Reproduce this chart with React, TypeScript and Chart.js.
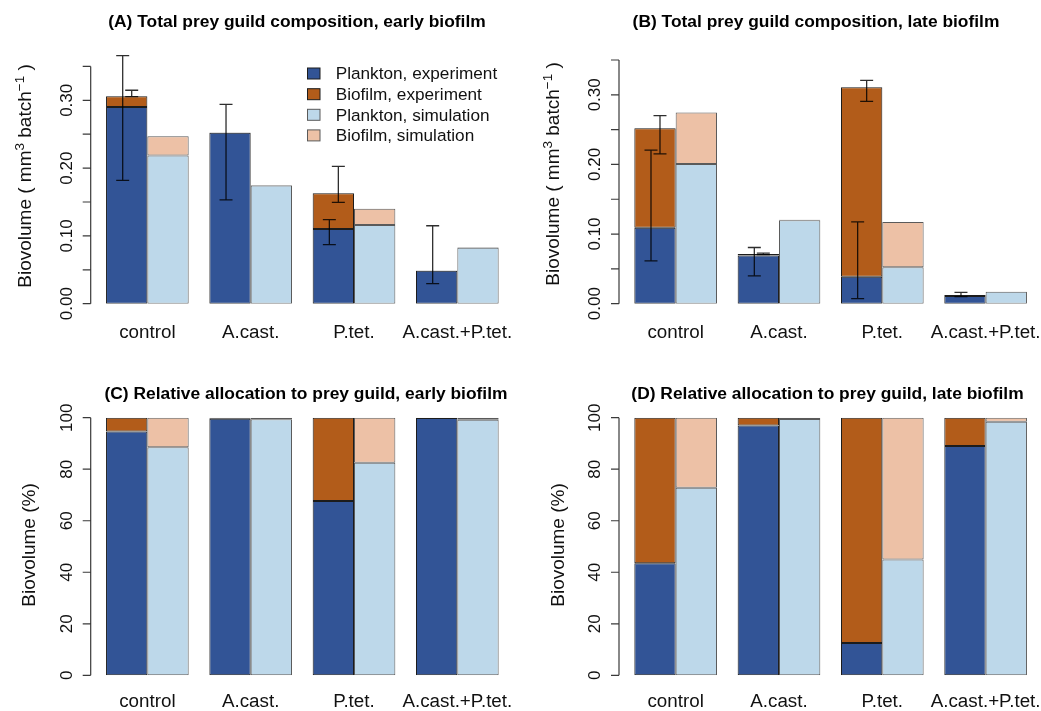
import React, { useEffect, useRef } from 'react';
import { Chart, registerables } from 'chart.js';

Chart.register(...registerables);

// ---------- data ----------
const categories = ['control', 'A.cast.', 'P.tet.', 'A.cast.+P.tet.'];

// (A) early biofilm, total biovolume (mm^3 batch^-1)
const earlyPlanktonExp = [0.29, 0.252, 0.11, 0.0487];
const earlyBiofilmExp = [0.016, 0.0006, 0.053, 0.0004];
const earlyPlanktonSim = [0.2185, 0.1745, 0.116, 0.0826];
const earlyBiofilmSim = [0.0285, 0.0005, 0.024, 0.0006];
const earlyPlanktonErrLow = [0.182, 0.153, 0.087, 0.0295];
const earlyPlanktonErrHigh = [0.366, 0.294, 0.124, 0.115];
const earlyBiofilmErrLow = [0.3054, null, 0.1495, null];
const earlyBiofilmErrHigh = [0.3148, null, 0.2026, null];

// (B) late biofilm, total biovolume (mm^3 batch^-1)
const latePlanktonExp = [0.109, 0.0692, 0.0387, 0.0112];
const lateBiofilmExp = [0.143, 0.0021, 0.2723, 0.0014];
const latePlanktonSim = [0.2005, 0.1198, 0.0525, 0.017];
const lateBiofilmSim = [0.074, 0.0006, 0.0649, 0.0003];
const latePlanktonErrLow = [0.0616, 0.04, 0.0072, 0.0102];
const latePlanktonErrHigh = [0.2205, 0.0807, 0.1174, 0.0163];
const lateBiofilmErrLow = [0.2153, 0.0705, 0.2907, null];
const lateBiofilmErrHigh = [0.27, 0.0725, 0.3208, null];

// (C) early biofilm, relative allocation (%)
const relEarlyPlanktonExp = [94.6, 99.6, 67.7, 99.9];
const relEarlyBiofilmExp = [5.4, 0.4, 32.3, 0.1];
const relEarlyPlanktonSim = [88.5, 99.4, 82.5, 99.2];
const relEarlyBiofilmSim = [11.5, 0.6, 17.5, 0.8];

// (D) late biofilm, relative allocation (%)
const relLatePlanktonExp = [43.5, 97.0, 12.5, 89.0];
const relLateBiofilmExp = [56.5, 3.0, 87.5, 11.0];
const relLatePlanktonSim = [72.8, 99.5, 45.0, 98.4];
const relLateBiofilmSim = [27.2, 0.5, 55.0, 1.6];

// axis ticks
const volumeTicks = [0, 0.05, 0.1, 0.15, 0.2, 0.25, 0.3, 0.35];
const volumeTickLabels = ['0.00', '', '0.10', '', '0.20', '', '0.30', ''];
const percentTicks = [0, 20, 40, 60, 80, 100];
const percentTickLabels = ['0', '20', '40', '60', '80', '100'];

const seriesNames = ['Plankton, experiment', 'Biofilm, experiment', 'Plankton, simulation', 'Biofilm, simulation'];

// ---------- styles ----------
const FONT = '"Liberation Sans", Arial, Helvetica, sans-serif';
const FILLS = ['#325496', '#B25C1A', '#BDD8EA', '#EDC1A6'];
const BORDERS = ['#1c1c1c', '#1c1c1c', '#5a5a5a', '#5a5a5a'];
const TICK_FONT = `17px ${FONT}`;
const CAT_FONT = `18.8px ${FONT}`;
const YLAB_FONT = `19px ${FONT}`;
const YLAB_SUP_FONT = `13.5px ${FONT}`;
const TITLE_FONT = `bold 17.4px ${FONT}`;
const LEGEND_FONT = `17.2px ${FONT}`;

type Panel = {
  title: string;
  titleX: number;
  titleBaseline: number;
  left: number;
  top: number;
  width: number;
  height: number;
  area: { l: number; r: number; t: number; b: number };
  ymax: number;
  ticks: number[];
  tickLabels: string[];
  series: number[][];
  errors?: { pLow: (number | null)[]; pHigh: (number | null)[]; bLow: (number | null)[]; bHigh: (number | null)[] };
  yLabel: 'volume' | 'percent';
  yLabelBaselineOffset: number;
  yLabelCenter: number;
  catBaseline: number;
  legend?: boolean;
};

const panels: Panel[] = [
  {
    title: '(A) Total prey guild composition, early biofilm',
    titleX: 297,
    titleBaseline: 27,
    left: 0, top: 0, width: 520, height: 356,
    area: { l: 95.7, r: 509, t: 66.4, b: 303.7 },
    ymax: 0.35,
    ticks: volumeTicks,
    tickLabels: volumeTickLabels,
    series: [earlyPlanktonExp, earlyBiofilmExp, earlyPlanktonSim, earlyBiofilmSim],
    errors: { pLow: earlyPlanktonErrLow, pHigh: earlyPlanktonErrHigh, bLow: earlyBiofilmErrLow, bHigh: earlyBiofilmErrHigh },
    yLabel: 'volume',
    yLabelBaselineOffset: 59.7,
    yLabelCenter: 176,
    catBaseline: 338,
    legend: true,
  },
  {
    title: '(B) Total prey guild composition, late biofilm',
    titleX: 816,
    titleBaseline: 27,
    left: 520, top: 0, width: 521, height: 356,
    area: { l: 624, r: 1037.3, t: 60, b: 303.7 },
    ymax: 0.35,
    ticks: volumeTicks,
    tickLabels: volumeTickLabels,
    series: [latePlanktonExp, lateBiofilmExp, latePlanktonSim, lateBiofilmSim],
    errors: { pLow: latePlanktonErrLow, pHigh: latePlanktonErrHigh, bLow: lateBiofilmErrLow, bHigh: lateBiofilmErrHigh },
    yLabel: 'volume',
    yLabelBaselineOffset: 59.7,
    yLabelCenter: 174,
    catBaseline: 338,
  },
  {
    title: '(C) Relative allocation to prey guild, early biofilm',
    titleX: 306,
    titleBaseline: 399.3,
    left: 0, top: 356, width: 520, height: 355,
    area: { l: 95.7, r: 509, t: 417.7, b: 675.3 },
    ymax: 100,
    ticks: percentTicks,
    tickLabels: percentTickLabels,
    series: [relEarlyPlanktonExp, relEarlyBiofilmExp, relEarlyPlanktonSim, relEarlyBiofilmSim],
    yLabel: 'percent',
    yLabelBaselineOffset: 55.5,
    yLabelCenter: 545,
    catBaseline: 707,
  },
  {
    title: '(D) Relative allocation to prey guild, late biofilm',
    titleX: 827.5,
    titleBaseline: 399.3,
    left: 520, top: 356, width: 521, height: 355,
    area: { l: 624, r: 1037.3, t: 417.7, b: 675.3 },
    ymax: 100,
    ticks: percentTicks,
    tickLabels: percentTickLabels,
    series: [relLatePlanktonExp, relLateBiofilmExp, relLatePlanktonSim, relLateBiofilmSim],
    yLabel: 'percent',
    yLabelBaselineOffset: 55.5,
    yLabelCenter: 545,
    catBaseline: 707,
  },
];

function drawVolumeLabel(ctx: CanvasRenderingContext2D, x: number, y: number) {
  // Biovolume ( mm^3 batch^-1 ) rotated, reading bottom to top
  const parts: [string, boolean][] = [
    ['Biovolume ( mm', false],
    ['3', true],
    [' batch', false],
    ['\u22121', true],
    [' )', false],
  ];
  let total = 0;
  const widths: number[] = [];
  for (const [t, s] of parts) {
    ctx.font = s ? YLAB_SUP_FONT : YLAB_FONT;
    const w = ctx.measureText(t).width;
    widths.push(w);
    total += w;
  }
  ctx.save();
  ctx.translate(x, y);
  ctx.rotate(-Math.PI / 2);
  ctx.textAlign = 'left';
  ctx.textBaseline = 'alphabetic';
  ctx.fillStyle = '#111';
  let cx = -total / 2;
  parts.forEach(([t, s], i) => {
    ctx.font = s ? YLAB_SUP_FONT : YLAB_FONT;
    ctx.fillText(t, cx, s ? -7.5 : 0);
    cx += widths[i];
  });
  ctx.restore();
}

function makePlugin(panel: Panel) {
  return {
    id: 'rStyle',
    afterDatasetsDraw(chart: any) {
      const ctx: CanvasRenderingContext2D = chart.ctx;
      const y = chart.scales.y;
      if (!panel.errors) return;
      const meta = chart.getDatasetMeta(0);
      const e = panel.errors;
      ctx.save();
      ctx.strokeStyle = 'rgba(0,0,0,0.82)';
      ctx.lineWidth = 1.3;
      const drawBar = (x: number, lo: number, hi: number) => {
        const y1 = y.getPixelForValue(lo);
        const y2 = y.getPixelForValue(hi);
        ctx.beginPath();
        ctx.moveTo(x, y1);
        ctx.lineTo(x, y2);
        ctx.moveTo(x - 6.5, y1);
        ctx.lineTo(x + 6.5, y1);
        ctx.moveTo(x - 6.5, y2);
        ctx.lineTo(x + 6.5, y2);
        ctx.stroke();
      };
      categories.forEach((_, i) => {
        const cx = meta.data[i].x;
        const pl = e.pLow[i], ph = e.pHigh[i];
        if (pl != null && ph != null) drawBar(cx - 4, pl, ph);
        const bl = e.bLow[i], bh = e.bHigh[i];
        if (bl != null && bh != null) drawBar(cx + 5, bl, bh);
      });
      ctx.restore();
    },
    afterDraw(chart: any) {
      const ctx: CanvasRenderingContext2D = chart.ctx;
      const y = chart.scales.y;
      const x = chart.scales.x;
      const area = chart.chartArea;
      const ax = area.left - 5;
      ctx.save();
      // y axis
      ctx.strokeStyle = '#3a3a3a';
      ctx.lineWidth = 1.2;
      const yTop = y.getPixelForValue(panel.ticks[panel.ticks.length - 1]);
      const yBot = y.getPixelForValue(panel.ticks[0]);
      ctx.beginPath();
      ctx.moveTo(ax, yBot);
      ctx.lineTo(ax, yTop);
      panel.ticks.forEach((t) => {
        const py = y.getPixelForValue(t);
        ctx.moveTo(ax, py);
        ctx.lineTo(ax - 8, py);
      });
      ctx.stroke();
      // tick labels (rotated, R style)
      ctx.fillStyle = '#111';
      ctx.font = TICK_FONT;
      ctx.textAlign = 'center';
      ctx.textBaseline = 'alphabetic';
      panel.ticks.forEach((t, i) => {
        const lab = panel.tickLabels[i];
        if (!lab) return;
        const py = y.getPixelForValue(t);
        ctx.save();
        ctx.translate(ax - 19.2, py);
        ctx.rotate(-Math.PI / 2);
        ctx.fillText(lab, 0, 0);
        ctx.restore();
      });
      // category labels
      ctx.font = CAT_FONT;
      ctx.textAlign = 'center';
      categories.forEach((c, i) => {
        const px = x.getPixelForValue(i);
        ctx.fillText(c, px, panel.catBaseline - panel.top);
      });
      // y title
      const lx = ax - panel.yLabelBaselineOffset;
      const ly = panel.yLabelCenter - panel.top;
      if (panel.yLabel === 'volume') {
        drawVolumeLabel(ctx, lx, ly);
      } else {
        ctx.save();
        ctx.translate(lx, ly);
        ctx.rotate(-Math.PI / 2);
        ctx.textAlign = 'center';
        ctx.textBaseline = 'alphabetic';
        ctx.font = YLAB_FONT;
        ctx.fillText('Biovolume (%)', 0, 0);
        ctx.restore();
      }
      // title
      ctx.font = TITLE_FONT;
      ctx.textAlign = 'center';
      ctx.textBaseline = 'alphabetic';
      ctx.fillStyle = '#000';
      ctx.fillText(panel.title, panel.titleX - panel.left, panel.titleBaseline - panel.top);
      // legend
      if (panel.legend) {
        const rowsY = [73.5, 94.2, 114.8, 135.4];
        ctx.font = LEGEND_FONT;
        ctx.textAlign = 'left';
        ctx.textBaseline = 'middle';
        seriesNames.forEach((name, i) => {
          const cy = rowsY[i] - panel.top;
          ctx.fillStyle = FILLS[i];
          ctx.fillRect(307.5 - panel.left, cy - 5.5, 12.5, 11);
          ctx.strokeStyle = BORDERS[i];
          ctx.lineWidth = 1;
          ctx.strokeRect(307.5 - panel.left, cy - 5.5, 12.5, 11);
          ctx.fillStyle = '#111';
          ctx.fillText(name, 335.7 - panel.left, cy + 1);
        });
      }
      ctx.restore();
    },
  };
}

function PanelChart({ panel }: { panel: Panel }) {
  const ref = useRef<HTMLCanvasElement | null>(null);
  useEffect(() => {
    if (!ref.current) return;
    const stacks = ['exp', 'exp', 'sim', 'sim'];
    const chart = new Chart(ref.current, {
      type: 'bar',
      data: {
        labels: categories,
        datasets: panel.series.map((d, i) => ({
          label: seriesNames[i],
          data: d,
          stack: stacks[i],
          backgroundColor: FILLS[i],
          borderColor: BORDERS[i],
          borderWidth: 1,
          borderSkipped: false,
          categoryPercentage: 0.8,
          barPercentage: 1.0,
        })),
      },
      options: {
        animation: false,
        responsive: false,
        maintainAspectRatio: false,
        devicePixelRatio: 1,
        layout: {
          padding: {
            left: panel.area.l - panel.left,
            right: panel.left + panel.width - panel.area.r,
            top: panel.area.t - panel.top,
            bottom: panel.top + panel.height - panel.area.b,
          },
        },
        plugins: {
          legend: { display: false },
          title: { display: false },
          tooltip: { enabled: false },
        },
        scales: {
          x: { display: false, offset: true, grid: { display: false } },
          y: { display: false, stacked: true, min: 0, max: panel.ymax, grid: { display: false } },
        },
      },
      plugins: [makePlugin(panel)],
    } as any);
    return () => chart.destroy();
  }, [panel]);
  return (
    <canvas
      ref={ref}
      width={panel.width}
      height={panel.height}
      style={{ position: 'absolute', left: panel.left, top: panel.top, width: panel.width, height: panel.height }}
    />
  );
}

export default function App() {
  return (
    <div style={{ position: 'absolute', left: 0, top: 0, width: 1041, height: 711, background: '#fff', overflow: 'hidden' }}>
      {panels.map((p) => (
        <PanelChart key={p.title} panel={p} />
      ))}
    </div>
  );
}
